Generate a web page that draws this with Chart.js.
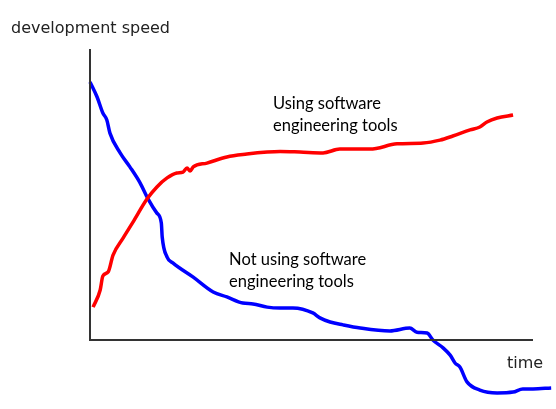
<!DOCTYPE html>
<html>
<head>
<meta charset="utf-8">
<script src="https://cdn.jsdelivr.net/npm/chart.js@4"></script>
<style>
html,body{margin:0;padding:0;background:#fff;}
#wrap{width:556px;height:409px;}
</style>
</head>
<body>
<div id="wrap"><canvas id="c" width="556" height="409"></canvas></div>
<script>
// time units (0..100 along the x axis), speed units (0..100 along the y axis)
const redTime  = [0.7,2.3,2.9,4.1,5.2,7.5,9.7,12.9,15.1,17.4,19.6,21.0,21.9,22.6,23.3,26.4,30.9,35.4,40.0,42.9,47.4,52.6,56.4,63.2,69.3,75.2,79.0,81.9,85.8,88.0,89.6,91.9,95.5];
const redSpeed = [11.3,17.2,22.0,23.4,29.2,35.1,40.5,48.5,52.6,55.7,57.4,57.7,59.1,58.1,59.5,60.8,62.9,63.9,64.6,64.8,64.6,64.3,65.6,65.6,67.4,67.7,68.7,70.1,72.2,73.2,74.9,76.3,77.3];
const blueTime  = [0,1.6,2.9,3.8,4.5,6.8,9.0,11.3,13.1,15.1,16.1,16.3,17.4,18.7,23.3,27.8,30.9,34.5,36.8,40.0,42.9,45.8,50.3,51.9,54.2,57.1,61.0,67.7,72.2,73.8,76.1,77.4,79.7,81.3,82.4,83.5,85.1,88.0,91.9,95.5,97.7,100.0,104.1];
const blueSpeed = [88.7,83.5,78.0,75.6,71.1,64.3,59.5,54.0,48.5,43.6,40.2,35.4,28.5,26.5,21.6,16.5,14.8,12.7,12.4,11.3,11.0,11.0,9.3,7.6,6.2,5.2,4.1,3.1,4.1,2.7,2.4,0,-2.7,-5.2,-7.9,-9.3,-14.4,-17.2,-18.2,-17.9,-16.8,-16.8,-16.5];
const axisLabels = {y: 'development speed', x: 'time'};
const annotations = [
  {lines: ['Using software', 'engineering tools'], t: 41.3, s: 79.4},
  {lines: ['Not using software', 'engineering tools'], t: 31.4, s: 25.8}
];

const toPts = (xs, ys) => xs.map((x, i) => ({x: x, y: ys[i]}));

const drawPlugin = {
  id: 'sketch',
  afterDatasetsDraw(chart) {
    const ctx = chart.ctx, xs = chart.scales.x, ys = chart.scales.y;
    ctx.save();
    ctx.strokeStyle = '#333';
    ctx.lineWidth = 2;
    ctx.beginPath();
    ctx.moveTo(xs.getPixelForValue(0), ys.getPixelForValue(100));
    ctx.lineTo(xs.getPixelForValue(0), ys.getPixelForValue(0));
    ctx.lineTo(xs.getPixelForValue(100), ys.getPixelForValue(0));
    ctx.stroke();
    ctx.fillStyle = '#222';
    ctx.font = '16px "DejaVu Sans"';
    ctx.textBaseline = 'alphabetic';
    ctx.fillText(axisLabels.y, 11, 33);
    ctx.fillText(axisLabels.x, 507, 368);
    ctx.font = '16.5px Lato';
    ctx.fillStyle = '#000';
    annotations.forEach(a => {
      const px = xs.getPixelForValue(a.t), py = ys.getPixelForValue(a.s);
      a.lines.forEach((l, i) => ctx.fillText(l, px, py + i * 22));
    });
    ctx.restore();
  }
};

new Chart(document.getElementById('c'), {
  type: 'scatter',
  data: {
    datasets: [
      {data: toPts(redTime, redSpeed), showLine: true, borderColor: '#ff0000', borderWidth: 3.5, pointRadius: 0, cubicInterpolationMode: 'monotone', fill: false},
      {data: toPts(blueTime, blueSpeed), showLine: true, borderColor: '#0000ff', borderWidth: 3.5, pointRadius: 0, cubicInterpolationMode: 'monotone', fill: false}
    ]
  },
  options: {
    responsive: false,
    animation: false,
    layout: {padding: 0},
    plugins: {legend: {display: false}, tooltip: {enabled: false}, title: {display: false}},
    scales: {
      x: {type: 'linear', display: false, min: -90 / 4.43, max: 466 / 4.43},
      y: {type: 'linear', display: false, min: -69 / 2.91, max: 340 / 2.91}
    }
  },
  plugins: [drawPlugin]
});
</script>
</body>
</html>
